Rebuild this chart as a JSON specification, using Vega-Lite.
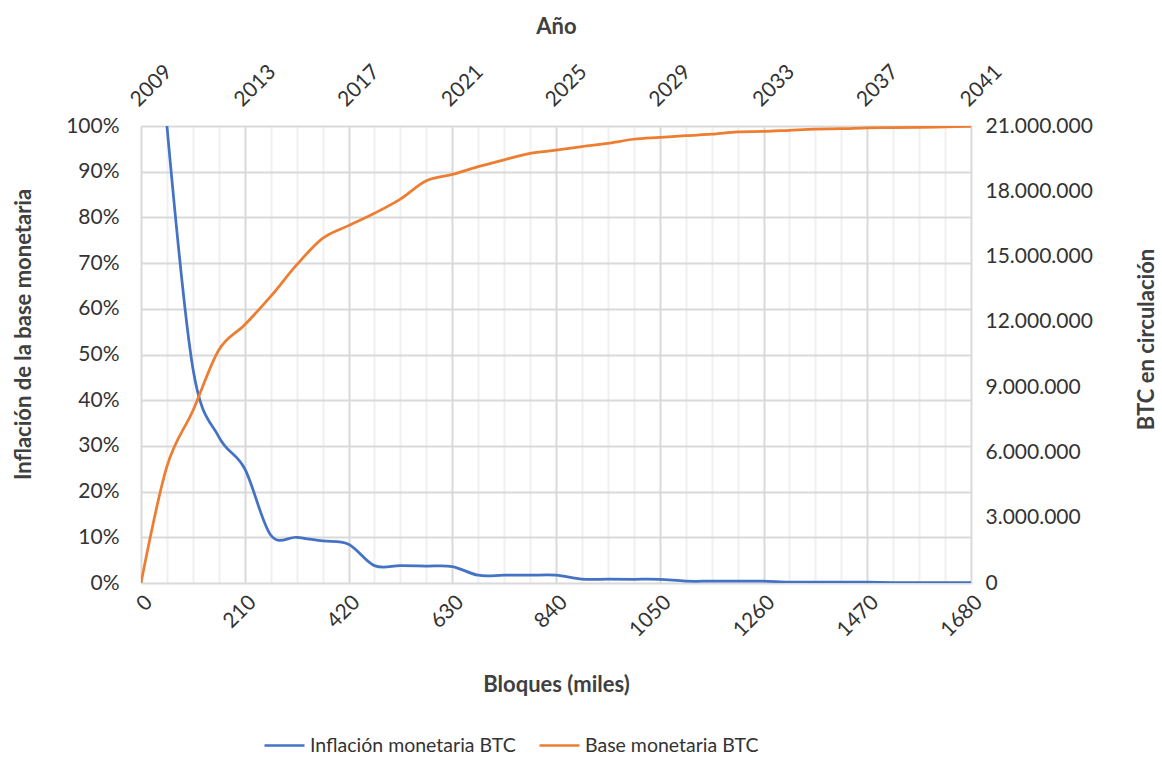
{
  "$schema": "https://vega.github.io/schema/vega-lite/v6.json",
  "width": 830,
  "height": 457,
  "autosize": "none",
  "padding": {"left": 141, "top": 126, "right": 191, "bottom": 175},
  "background": "white",
  "config": {
    "font": "Lato",
    "view": {"stroke": null},
    "locale": {"number": {"decimal": ",", "thousands": ".", "grouping": [3], "currency": ["", " €"]}},
    "axis": {"labelFont": "Lato", "titleFont": "Lato", "labelFontSize": 21, "labelColor": "#333333", "titleFontSize": 22, "titleFontWeight": "bold", "titleColor": "#404040", "ticks": false, "domain": false}
  },
  "data": {"values": [
    {"bloque": 0, "inflacion": null, "base": 0},
    {"bloque": 52.5, "inflacion": 1.0, "base": 5355000},
    {"bloque": 105, "inflacion": 0.47, "base": 7917000},
    {"bloque": 157.5, "inflacion": 0.32, "base": 10710000},
    {"bloque": 210, "inflacion": 0.25, "base": 11865000},
    {"bloque": 262.5, "inflacion": 0.105, "base": 13167000},
    {"bloque": 315, "inflacion": 0.10, "base": 14616000},
    {"bloque": 367.5, "inflacion": 0.092, "base": 15834000},
    {"bloque": 420, "inflacion": 0.085, "base": 16422000},
    {"bloque": 472.5, "inflacion": 0.038, "base": 16989000},
    {"bloque": 525, "inflacion": 0.038, "base": 17640000},
    {"bloque": 577.5, "inflacion": 0.037, "base": 18480000},
    {"bloque": 630, "inflacion": 0.036, "base": 18774000},
    {"bloque": 682.5, "inflacion": 0.017, "base": 19131000},
    {"bloque": 735, "inflacion": 0.017, "base": 19446000},
    {"bloque": 787.5, "inflacion": 0.017, "base": 19740000},
    {"bloque": 840, "inflacion": 0.017, "base": 19887000},
    {"bloque": 892.5, "inflacion": 0.0083, "base": 20055000},
    {"bloque": 945, "inflacion": 0.0083, "base": 20202000},
    {"bloque": 997.5, "inflacion": 0.0082, "base": 20391000},
    {"bloque": 1050, "inflacion": 0.008, "base": 20475000},
    {"bloque": 1102.5, "inflacion": 0.0041, "base": 20559000},
    {"bloque": 1155, "inflacion": 0.004, "base": 20622000},
    {"bloque": 1207.5, "inflacion": 0.004, "base": 20727000},
    {"bloque": 1260, "inflacion": 0.004, "base": 20748000},
    {"bloque": 1312.5, "inflacion": 0.002, "base": 20800500},
    {"bloque": 1365, "inflacion": 0.002, "base": 20853000},
    {"bloque": 1417.5, "inflacion": 0.002, "base": 20874000},
    {"bloque": 1470, "inflacion": 0.002, "base": 20916000},
    {"bloque": 1522.5, "inflacion": 0.001, "base": 20926500},
    {"bloque": 1575, "inflacion": 0.001, "base": 20937000},
    {"bloque": 1627.5, "inflacion": 0.001, "base": 20958000},
    {"bloque": 1680, "inflacion": 0.001, "base": 20979000}
  ]},
  "layer": [
    {
      "mark": {"type": "line", "interpolate": "cardinal", "strokeWidth": 2.75, "clip": true},
      "encoding": {
        "x": {"field": "bloque", "type": "quantitative",
          "scale": {"domain": [0, 1680], "nice": false, "zero": false},
          "axis": {"orient": "bottom", "title": "Bloques (miles)",
            "values": [0,52.5,105,157.5,210,262.5,315,367.5,420,472.5,525,577.5,630,682.5,735,787.5,840,892.5,945,997.5,1050,1102.5,1155,1207.5,1260,1312.5,1365,1417.5,1470,1522.5,1575,1627.5,1680],
            "labelExpr": "datum.value % 210 === 0 ? format(datum.value, 'd') : ''",
            "labelAngle": -45, "labelPadding": 8, "titlePadding": 34, "labelOverlap": false, "labelBound": false, "labelFlush": false,
            "grid": true, "gridWidth": 2,
            "gridColor": {"condition": {"test": "datum.value % 210 === 0", "value": "#d9d9d9"}, "value": "#f0f0f0"}}},
        "y": {"field": "inflacion", "type": "quantitative",
          "scale": {"domain": [0, 1], "nice": false},
          "axis": {"orient": "left", "title": "Inflación de la base monetaria", "format": ".0%",
            "values": [0,0.1,0.2,0.3,0.4,0.5,0.6,0.7,0.8,0.9,1],
            "grid": true, "gridColor": "#d9d9d9", "gridWidth": 2, "labelPadding": 22, "titlePadding": 30, "titleY": 208, "labelFlush": false}},
        "color": {"datum": "Inflación monetaria BTC", "type": "nominal",
          "scale": {"domain": ["Inflación monetaria BTC", "Base monetaria BTC"], "range": ["#4472C4", "#ED7D31"]},
          "legend": {"title": null, "orient": "none", "legendX": 122, "legendY": 598, "direction": "horizontal",
            "symbolType": "stroke", "symbolSize": 1600, "symbolStrokeWidth": 2.5, "labelFontSize": 19.5, "labelFont": "Lato", "labelColor": "#333333", "labelLimit": 0, "labelOffset": 4, "columnPadding": 18}}
      }
    },
    {
      "mark": {"type": "line", "interpolate": "cardinal", "strokeWidth": 2.75, "clip": true},
      "encoding": {
        "x": {"field": "bloque", "type": "quantitative",
          "scale": {"domain": [0, 1680], "nice": false, "zero": false},
          "axis": {"orient": "top", "title": "Año",
            "values": [0,210,420,630,840,1050,1260,1470,1680],
            "labelExpr": "format(2009 + datum.value / 52.5, 'd')",
            "labelAngle": -45, "labelPadding": 16, "titlePadding": 22, "grid": false, "labelOverlap": false, "labelBound": false, "labelFlush": false}},
        "y": {"field": "base", "type": "quantitative",
          "scale": {"domain": [0, 21000000], "nice": false},
          "axis": {"orient": "right", "title": "BTC en circulación", "format": ",d",
            "values": [0,3000000,6000000,9000000,12000000,15000000,18000000,21000000],
            "grid": false, "labelPadding": 14, "titlePadding": 66, "titleAngle": -90, "titleY": 213, "labelFlush": false}},
        "color": {"datum": "Base monetaria BTC", "type": "nominal"}
      }
    }
  ],
  "resolve": {"scale": {"y": "independent"}, "axis": {"x": "independent", "y": "independent"}}
}
